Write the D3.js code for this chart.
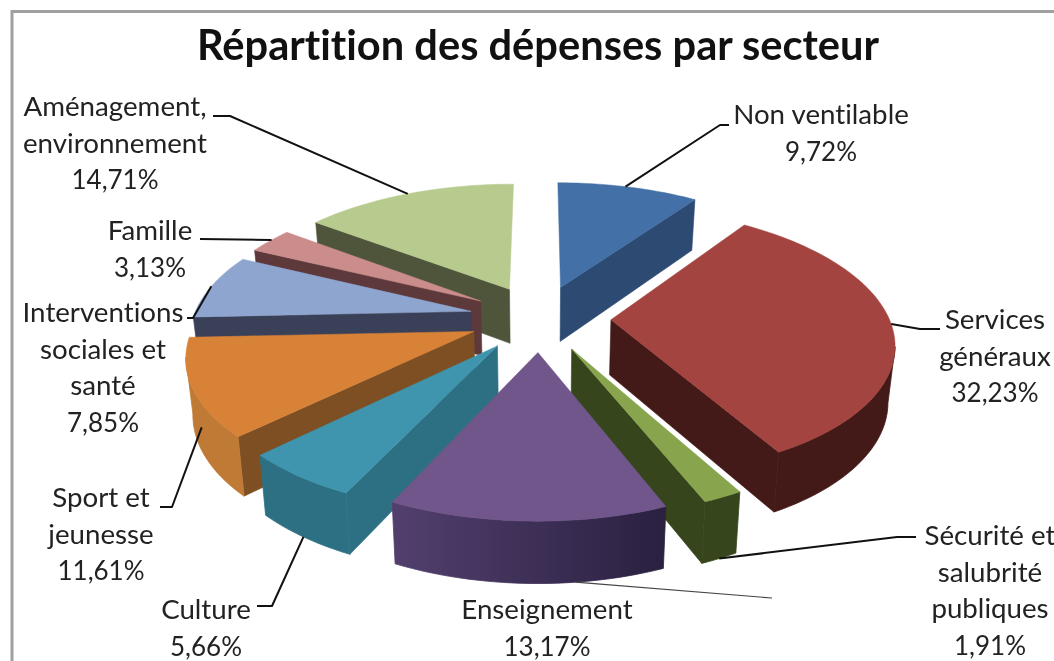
<!DOCTYPE html>
<html><head><meta charset="utf-8">
<script src="https://cdn.jsdelivr.net/npm/d3@7/dist/d3.min.js"></script>
<style>html,body{margin:0;padding:0;background:#fff;overflow:hidden}svg{display:block}text{font-variant-ligatures:none}</style>
</head><body><svg id="c" width="1054" height="661"></svg>
<script>
const title = "Répartition des dépenses par secteur";
const categories = ["Non ventilable","Services généraux","Sécurité et salubrité publiques","Enseignement","Culture","Sport et jeunesse","Interventions sociales et santé","Famille","Aménagement, environnement"];
const values = [9.72,32.23,1.91,13.17,5.66,11.61,7.85,3.13,14.71];
const valueLabels = ["9,72%","32,23%","1,91%","13,17%","5,66%","11,61%","7,85%","3,13%","14,71%"];
const labelLines = [["Non ventilable"],["Services","généraux"],["Sécurité et","salubrité","publiques"],["Enseignement"],["Culture"],["Sport et","jeunesse"],["Interventions","sociales et","santé"],["Famille"],["Aménagement,","environnement"]];

// styles and layout, separate from the data
const topColors  = ["#4370a6","#a44441","#88a54e","#71568b","#3f94ae","#d88238","#8ea6cf","#cb8d8b","#b8cb8f"];
const sideColors = ["#2c4a72","#431a17","#36451c","#4a3763","#2d7083","#7e4f22","#394058","#5d393c","#4e553a"];
const outerFrom  = ["#2c4a72","#431a17","#36451c","#523f6e","#2d7083","#bf7a35","#394058","#5d393c","#4e553a"];
const outerTo    = ["#2c4a72","#431a17","#36451c","#2a2040","#2d7083","#bf7a35","#394058","#5d393c","#4e553a"];
const paintOrder = [8,0,7,6,5,1,2,4,3];
const labelCx = [821,995,990,547,206,101,103,150,115];
const labelY0 = [124,329,545,619,619,507,322,240,116];
const leaderAnchor = [[.48,0],[.49,0],[.5,1],[.33,1],[.5,1],[.4,.5],[.5,0],[.55,0],[.5,0]];
const leaderRoute = [
 [[720,125],[729,125]],
 [[920,329],[940,329]],
 [[897,537],[916,537]],
 [[772,598]],
 [[272,606],[257,606]],
 [[172,507],[160,507]],
 [[193,318],[187,318]],
 [[200,239]],
 [[230,116],[213,116]]
];

const svg = d3.select("#c");
const defs = svg.append("defs");
const root = svg.append("g").style("filter","blur(0.55px)");
const W = 1054, H = 661;
const cx = 540, cy = 318, R = 278, Rt = 130, persp = 0.157, explode = 0.255;
const xS = d3.scaleLinear().domain([-1,1]).range([cx-R,cx+R]);
const yS = d3.scaleLinear().domain([-1,1]).range([cy-Rt,cy+Rt]);

// projection of a plate point; level 0 = top surface, 1 = bottom surface
function project(u,v,level){
  const w = 1/(1-persp*v);
  const x = xS(u*w), y = yS(v*w);
  const d = 25+30*w;
  const shrink = 1-0.02*level;
  return [cx+(x-cx)*shrink, y+d*level];
}
const arcs = d3.pie().sort(null).value(d=>d)(values);
function platePoint(a,r,theta){
  const b=(a.startAngle+a.endAngle)/2;
  return [explode*Math.sin(b)+r*Math.sin(theta), -explode*Math.cos(b)-r*Math.cos(theta)];
}
function outline(a){
  const n=Math.max(4,Math.ceil((a.endAngle-a.startAngle)/0.03));
  const pts=[platePoint(a,0,0)];
  d3.range(n+1).forEach(k=>pts.push(platePoint(a,1,a.startAngle+(a.endAngle-a.startAngle)*k/n)));
  return pts;
}
const line = d3.line();

// frame
root.append("path").attr("d",line([[12,H],[12,11.5],[W,11.5]])).attr("fill","none").attr("stroke","#a0a0a0").attr("stroke-width",3);

// slices, painted back to front
paintOrder.forEach(i=>{
  const a=arcs[i], pts=outline(a), g=root.append("g");
  const nEdges=pts.length;
  const top=pts.map(p=>project(p[0],p[1],0));
  const bottom=pts.map(p=>project(p[0],p[1],1));
  const xs=top.slice(1).map(p=>p[0]);
  const gid="wall"+i;
  const grad=defs.append("linearGradient").attr("id",gid).attr("gradientUnits","userSpaceOnUse")
    .attr("x1",d3.min(xs)).attr("x2",d3.max(xs)).attr("y1",0).attr("y2",0);
  grad.append("stop").attr("offset",0).attr("stop-color",outerFrom[i]);
  grad.append("stop").attr("offset",1).attr("stop-color",outerTo[i]);

  const faces=(e,min)=>top[(e+1)%nEdges][0]-top[e][0] < -min;   // walls facing the viewer
  // radial walls
  [0,nEdges-1].forEach(e=>{
    if(!faces(e,8)) return;
    const f=(e+1)%nEdges;
    g.append("path").attr("d",line([top[e],top[f],bottom[f],bottom[e]])+"Z")
      .attr("fill",sideColors[i]).attr("stroke",sideColors[i]).attr("stroke-width",0.6);
  });
  // outer curved wall, one shape
  const front=d3.range(1,nEdges-1).filter(e=>faces(e,0.01));
  if(front.length){
    const idx=[...front,front[front.length-1]+1];
    const poly=[...idx.map(k=>top[k]),...idx.slice().reverse().map(k=>bottom[k])];
    g.append("path").attr("d",line(poly)+"Z").attr("fill",`url(#${gid})`)
      .attr("stroke",`url(#${gid})`).attr("stroke-width",0.8);
  }
  g.append("path").attr("d",line(top)+"Z")
    .attr("fill",topColors[i]).attr("stroke",topColors[i]).attr("stroke-width",0.5);
});

// leaders
categories.forEach((c,i)=>{
  const a=arcs[i], th=a.startAngle+(a.endAngle-a.startAngle)*leaderAnchor[i][0];
  const p=platePoint(a,1,th);
  const start=project(p[0],p[1],leaderAnchor[i][1]);
  root.append("path").attr("d",line([start,...leaderRoute[i]])).attr("fill","none")
    .attr("stroke",i===3?"#444":"#111").attr("stroke-width",i===3?1.2:2).attr("stroke-linejoin","round");
});

// title
root.append("text").attr("x",538).attr("y",60).attr("text-anchor","middle")
  .attr("font-family","Lato").attr("font-weight",700).attr("font-size",41.6).attr("fill","#111").text(title);

// labels
categories.forEach((c,i)=>{
  const t=root.append("text").attr("font-family","Lato").attr("fill","#222").attr("text-anchor","middle");
  labelLines[i].forEach((s,k)=>{
    t.append("tspan").attr("x",labelCx[i]).attr("y",labelY0[i]+k*36.5).attr("font-size",27.7).text(s);
  });
  t.append("tspan").attr("x",labelCx[i]).attr("y",labelY0[i]+labelLines[i].length*36.5).attr("font-size",26).text(valueLabels[i]);
});
</script></body></html>
